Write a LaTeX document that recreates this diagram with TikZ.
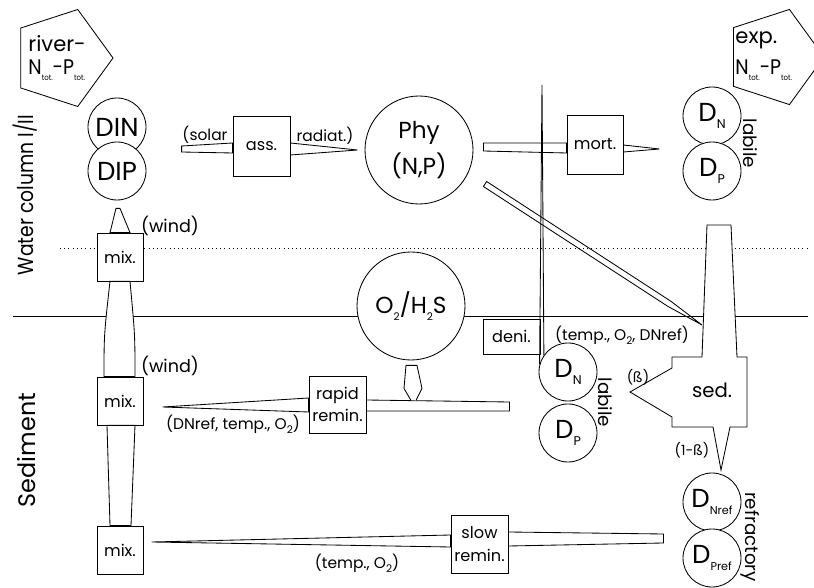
\documentclass[tikz,border=0pt]{standalone}
\usepackage{fontspec}
\setmainfont{Poppins}
\usetikzlibrary{calc, positioning, shapes.geometric}
\newcommand{\subtxt}[2][7.5]{\raisebox{-0.28em}{\fontsize{#1}{#1}\selectfont #2}}
\newcommand{\totNP}{\scalebox{0.9}[1]{N\subtxt[5.5]{tot.}-P\subtxt[5.5]{tot.}}}

\begin{document}
\begin{tikzpicture}[x=0.25mm, y=-0.25mm, line width=0.6pt]
    \tikzset{
      pool/.style={circle, draw, fill=white, minimum size=14.5mm, inner sep=0pt,
        font=\fontsize{18.5}{18.5}\selectfont},
      big pool/.style={pool, minimum size=27mm, align=center,
        font=\fontsize{16.5}{26}\selectfont},
      valve/.style={rectangle, draw, fill=white, minimum width=14.25mm,
        minimum height=14.75mm, inner sep=1pt, align=center,
        font=\fontsize{11.5}{16}\selectfont},
      mix valve/.style={valve, minimum width=11.5mm, minimum height=12mm},
      boundary/.style={regular polygon, regular polygon sides=5, draw,
        shape border rotate=-90, minimum size=25.5mm, inner sep=0pt},
      wide pipe/.style={draw, fill=white},
      factor/.style={inner sep=0pt, font=\fontsize{11}{11}\selectfont},
      side label/.style={rotate=-90, inner sep=0pt, font=\fontsize{13}{13}\selectfont},
      layer label/.style={rotate=90, inner sep=0pt, font=\fontsize{17}{17}\selectfont},
    }
    \useasboundingbox (0,0) rectangle (814,588);
    \clip (0,0) rectangle (814,588);

    % Layers
    \draw[dash pattern=on 0.6pt off 2.4pt] (60,248) -- (810,248);
    \draw (13,316) -- (808,316);
    \node [layer label] at (25,195) {\scalebox{0.86}[1]{\fontsize{15.5}{15.5}\selectfont Water column I/II}};
    \node [layer label] at (27,450) {Sediment};

    % Boundaries
    \node (river) [boundary] at (62,58) {};
    \node [align=left, anchor=west, inner sep=0pt, font=\fontsize{15}{17}\selectfont]
      at (28,58) {river-\\\totNP};
    \node (export) [boundary, minimum size=25mm] at (774,57) {};
    \node [align=left, anchor=west, inner sep=0pt, font=\fontsize{15}{22}\selectfont]
      at (735,56) {exp.\\\totNP};

    % Pools
    \node (DIN) [pool] at (117,127) {DIN};
    \node (DIP) [pool] at (117,171) {DIP};
    \node (Phy) [big pool] at (419,150) {Phy\\(N,P)};
    \node (O2) [big pool] at (411,306) {O\subtxt{2}/H\subtxt{2}S};
    \node (DNw) [pool] at (712,116) {D\subtxt[9]{N}};
    \node (DPw) [pool] at (712,171) {D\subtxt[9]{P}};
    \node (DNs) [pool] at (568,372) {D\subtxt[9]{N}};
    \node (DPs) [pool] at (568,433) {D\subtxt[9]{P}};
    \node (DNref) [pool] at (712,502) {D\subtxt[8]{Nref}};
    \node (DPref) [pool] at (712,558) {D\subtxt[8]{Pref}};
    \node [side label] at ($(DNw.east)!.5!(DPw.east)+(9,0)$) {labile};
    \node [side label] at ($(DNs.east)!.5!(DPs.east)+(8,0)$) {labile};
    \node [side label] at ($(DNref.east)!.5!(DPref.east)+(9,7)$) {refractory};

    % Valves
    \node (ass) [valve, minimum height=15mm] at (261.5,146) {ass.};
    \node (mort) [valve, minimum width=14mm] at (595,144.5) {mort.};
    \node (rapid) [valve, minimum height=14.25mm] at (337.5,404.5) {rapid\\remin.};
    \node (slow) [valve, minimum height=14.5mm] at (479.5,544) {slow\\remin.};
    \node (deni) [valve, minimum height=8.75mm] at (511.5,336.5) {deni.};
    \foreach \name/\y in {mix1/257, mix2/401, mix3/550}
      \node (\name) [mix valve] at (120,\y) {mix.};

    % Flows in the water column
    \draw ($(ass.west)+(-51,0)$) -- ($(ass.west)+(0,-3)$) -- ($(ass.west)+(0,7)$)
      -- ($(ass.west)+(-51,6)$) -- cycle;
    \draw ($(ass.east)+(0,-3)$) -- ($(Phy.west)+(-7,0)$) -- ($(ass.east)+(0,9)$);
    \draw ($(Phy.east)+(10,-7)$) -- ($(mort.west)+(0,-1.5)$) -- ($(mort.west)+(0,8.5)$)
      -- ($(Phy.east)+(10,1)$) -- cycle;
    \draw ($(mort.east)+(0,0.5)$) -- ($(mort.east)+(36,4.5)$) -- ($(mort.east)+(0,7.5)$);
    \coordinate (sed in) at (702,325);
    \draw (486.6,181.5) -- (671.1,301.4) -- (sed in) -- (667.9,306.4) -- (483.4,186.5) -- cycle;
    \coordinate (deni out) at (542,85);
    \draw (DNs.165) -- (deni out) -- (DNs.145);

    % Mixing column
    \draw[wide pipe] ($(DIP.south)+(-1,8)$) -- ($(DIP.south)+(3,8)$)
      -- ($(mix1.north)+(10,0)$) -- ($(mix1.north)+(-10,0)$) -- cycle;
    \draw[wide pipe] ($(mix1.south)+(-10,0)$) -- ($(mix1.south)+(10,0)$)
      .. controls (135,335) .. ($(mix2.north)+(15,0)$) -- ($(mix2.north)+(-16,0)$)
      .. controls (104,335) .. ($(mix1.south)+(-10,0)$) -- cycle;
    \draw[wide pipe] ($(mix2.south)+(-13,0)$) -- ($(mix2.south)+(15,0)$)
      -- ($(mix3.north)+(11,0)$) -- ($(mix3.north)+(-10,0)$) -- cycle;
    \node [factor, font=\fontsize{12.5}{12.5}\selectfont] at (170,226) {(wind)};
    \node [factor, font=\fontsize{12.5}{12.5}\selectfont] at (170,366) {(wind)};

    % Sedimentation
    \draw[wide pipe] (707,225) -- (731,225) -- (737,357) -- (747,357) -- (747,427)
      -- (730,427) -- (721,470) -- (713,427) -- (672,427) -- (672,417) -- (630,392)
      -- (672,368) -- (672,357) -- (702,357) -- cycle;
    \node (sed) [font=\fontsize{14}{14}\selectfont] at (712,390) {sed.};

    % Remineralisation in the sediment
    \draw ($(rapid.west)+(-146,2.5)$) -- ($(rapid.west)+(0,-6.5)$)
      -- ($(rapid.west)+(0,7.5)$) -- cycle;
    \draw ($(rapid.east)+(0,-4.5)$) -- ($(rapid.east)+(143,-2.5)$)
      -- ($(rapid.east)+(143,6.5)$) -- ($(rapid.east)+(0,6.5)$);
    \draw[fill=white] ($(O2.south)+(0,40)$) -- ($(O2.south)+(-7,28)$) -- ($(O2.south)+(-5,5)$)
      -- ($(O2.south)+(6,5)$) -- ($(O2.south)+(11,28)$) -- ($(O2.south)+(5,40)$);
    \draw ($(slow.west)+(-299,-2)$) -- ($(slow.west)+(0,-9)$)
      -- ($(slow.west)+(0,3)$) -- cycle;
    \draw ($(slow.east)+(0,-12)$) -- ($(slow.east)+(155,-10)$)
      -- ($(slow.east)+(155,-1)$) -- ($(slow.east)+(0,2)$);

    % Controlling factors
    \node [factor] at (205,135) {(solar};
    \node [factor] at (325,136) {radiat.)};
    \node [factor] at (233,424) {(DNref, temp., O\subtxt{2})};
    \node [factor] at (622,335) {(temp., O\subtxt{2}, DNref)};
    \node [factor] at (357,563) {(temp., O\subtxt{2})};
    \node [factor, font=\fontsize{10}{10}\selectfont] at (638,377) {(ß)};
    \node [factor, font=\fontsize{10}{10}\selectfont] at (692,450) {(1-ß)};
  \end{tikzpicture}
\end{document}
